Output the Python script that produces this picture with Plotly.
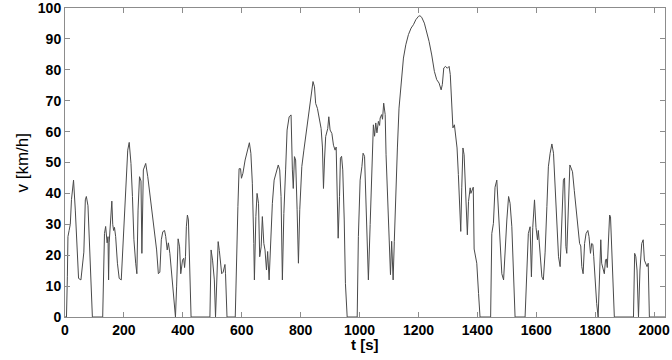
import plotly.graph_objects as go

# Segment 1 (urban part, 0 - ~580 s)
seg1_t = [0, 5, 8, 10, 14, 18, 22, 29, 35, 41, 46, 54, 60, 64, 69, 72.5, 78, 82.5, 87, 93,
          128, 130, 134, 138, 143, 146, 148, 150, 154, 159, 162, 165, 168, 172, 178, 184, 191,
          196, 201, 208, 213, 218, 224, 229, 234, 240, 244, 248, 253, 258, 261, 266, 274, 281,
          289, 297, 306, 311, 317, 322, 327, 332, 338, 342, 347, 351, 356, 363, 368, 375, 379,
          384, 389, 393, 399, 403, 406, 409, 412, 415.6, 419, 422.5, 428, 492, 496, 501, 507,
          511, 515, 520, 524, 528, 532, 537, 543, 545, 550]
seg1_v = [0, 0, 13, 26, 28, 30, 38, 44.3, 34.6, 21.7, 12.5, 12, 18.4, 21, 37.9, 39, 36, 26, 13, 0,
          0, 13, 27, 29.3, 24, 26, 12, 24, 30, 37.5, 30, 28, 29, 26, 17.4, 12.5, 12,
          21.7, 34.6, 47.6, 54, 56.5, 49.7, 39, 25, 17.4, 14, 34.6, 45.4, 44, 20.6, 47.6, 49.7, 45.4,
          39, 32.5, 25, 21.7, 14, 14.5, 25, 27.6, 28, 26, 21.7, 24, 20.6, 12, 6, 0, 10,
          25.3, 22.7, 14, 18.4, 19, 16, 19.5, 29.2, 33, 31.4, 20.6, 0, 0, 21.7, 18.4, 12,
          0, 12, 24.4, 21.5, 18.4, 14, 14.5, 17, 14, 0]

# Segment 2 (suburban / highway part, ~580 - ~1445 s)
seg2_t = [578, 581, 587, 591, 596, 599, 604, 611.5, 617, 623, 626, 631, 636, 641, 643, 648, 652,
          657, 661, 666, 670, 675, 679, 684, 688, 693, 698, 704, 710, 716.5, 724, 729, 733.5,
          738, 743, 749, 754, 761, 767.5, 772, 775, 779, 783, 788, 792.5, 797, 804, 811, 817,
          824, 832, 838, 842, 847, 851, 857, 863, 869.5, 874, 877.5, 881, 885, 892, 895.6, 900,
          906, 911.5, 917, 920.6, 924, 927.4, 932, 935, 939, 943, 948, 952, 958, 992, 996, 1002,
          1008, 1012, 1017, 1021, 1026, 1030, 1036, 1041, 1047, 1051, 1055, 1059, 1064, 1068,
          1070, 1075, 1078, 1082, 1087, 1090, 1096, 1100, 1105, 1109, 1114, 1118, 1124, 1128.5,
          1134, 1141, 1149, 1157, 1166, 1175, 1183, 1191, 1200, 1205, 1211, 1220, 1228, 1236,
          1245, 1254, 1262, 1270, 1277, 1281, 1286, 1292, 1298, 1304, 1308, 1313, 1317, 1322,
          1326, 1331, 1335.5, 1340, 1343.6, 1347, 1351, 1355, 1358, 1363, 1366, 1370, 1375.6,
          1378, 1383, 1386, 1389, 1394, 1398, 1404, 1409]
seg2_v = [0, 14, 35.7, 48, 48, 44.9, 46.5, 50.8, 53, 55.7, 56.4, 53, 43.3, 23.8, 12, 32.5, 40,
          36.8, 19.5, 22.7, 32.5, 23.8, 21.7, 15.2, 21.2, 12, 26, 36.8, 44.3, 46.5, 49.2, 47.6, 39,
          12, 33.5, 47.6, 60.5, 64.8, 65.4, 47.6, 41.6, 51.9, 50.8, 34.7, 17.4, 34.7, 48.7, 54, 58.4,
          63.8, 68.1, 73.4, 76.2, 74.5, 69.1, 67.5, 64.8, 61, 55, 41.6, 50.8, 58.4, 61, 64.8, 60.5,
          59.4, 55.6, 54, 55, 36.8, 25.5, 39, 51.4, 52, 47.6, 31.4, 10.9, 0, 0, 26, 44.3,
          48.7, 53, 52, 39, 24, 12, 29.9, 46, 62.2, 58.5, 62.8, 59.6, 63.3, 62,
          64.4, 65.5, 64, 69.2, 65.5, 52.5, 35.3, 24.5, 13.7, 24.5, 12, 24.5, 43.9, 54.7,
          67.6, 76.2, 83.8, 88.1, 91.4, 93.5, 94.6, 96.2, 97.3, 97.5, 97, 95.1, 92.4, 89.2,
          84.8, 79.5, 76.8, 75.7, 73.5, 75.2, 80.6, 81.1, 80.5, 81.1, 78.5, 69.8, 61.2, 62.2,
          59, 54.7, 46.1, 35.3, 27.7, 41.8, 54.7, 52.5, 43.9, 28.8, 26.6, 37.4, 41.8,
          40, 41.8, 42, 22, 19.5, 17.4, 7.6, 0]

# Segment 3 (urban part repeated, ~1445 - end)
seg3_t = [1445, 1447, 1449, 1454.5, 1460, 1466, 1471.5, 1477, 1483, 1489, 1494, 1500, 1506, 1511,
          1517, 1523, 1528, 1562, 1568, 1573, 1579, 1583.5, 1588, 1594, 1599, 1604, 1607, 1613,
          1619, 1624, 1630, 1636, 1641, 1647, 1653, 1658.5, 1664, 1670, 1675.5, 1681, 1687, 1692,
          1696, 1700.5, 1703.5, 1709, 1714, 1717, 1723, 1729, 1735, 1741, 1747, 1751, 1754.5,
          1759, 1764, 1769, 1775, 1779, 1784, 1788, 1792, 1795, 1800, 1805, 1810, 1814, 1819,
          1822, 1827, 1831, 1835, 1838, 1841, 1845, 1849, 1852, 1856, 1862, 1865, 1930, 1934,
          1938, 1942, 1947, 1952, 1958, 1963, 1967, 1972, 1976, 1980, 1981, 1984, 2037]
seg3_v = [0, 13, 27, 30.3, 42, 44.3, 35.7, 25, 14, 12, 21.7, 31.4, 39, 36.8,
          29.2, 13, 0, 0, 13, 27, 29.2, 13, 29, 37.9, 29, 25, 28, 19.5,
          13, 12, 21, 35.7, 48.6, 53, 56, 53, 43.3, 29.2, 19.5, 16.3, 32.5, 44.3,
          45, 22.8, 20.6, 39, 49.2, 48.5, 47, 41, 35.7, 30.3, 23.8, 23, 16.3,
          14, 23.8, 27, 28, 26, 20.6, 23.8, 23.5, 19.5, 9.8, 4.4, 0, 10, 25,
          17.4, 15.2, 14, 18.4, 18.8, 16, 22.8, 33, 32.5, 22.8, 6.6, 0, 0, 20.6,
          19.5, 15.2, 0, 15.2, 23.8, 25, 18.4, 16.8, 16.3, 17.4, 13, 0, 0]

x_ticks = list(range(0, 2001, 200))
y_ticks = list(range(0, 101, 10))

t = seg1_t + seg2_t + seg3_t
v = seg1_v + seg2_v + seg3_v

FONT = "Liberation Sans, Arial, sans-serif"

fig = go.Figure()
fig.add_trace(go.Scatter(x=t, y=v, mode="lines",
                         line=dict(color="#4a4a4a", width=1), showlegend=False,
                         hoverinfo="x+y"))

axis_common = dict(
    showgrid=False, zeroline=False, showline=True, linecolor="#8c8c8c", linewidth=1,
    mirror="ticks", ticks="inside", ticklen=5, tickcolor="#8c8c8c", automargin=False,
    ticklabeloverflow="allow",
    tickfont=dict(family=FONT, size=14, color="black"),
)

fig.update_layout(
    width=672, height=360,
    margin=dict(l=65, r=7, t=8, b=43),
    paper_bgcolor="white", plot_bgcolor="white",
    xaxis=dict(range=[0, 2037], tickvals=x_ticks, ticktext=["<b>%d</b>" % x for x in x_ticks],
               **axis_common),
    yaxis=dict(range=[0, 100], tickvals=y_ticks, ticktext=["<b>%d</b>" % y for y in y_ticks],
               **axis_common),
    annotations=[
        dict(text="<b>t [s]</b>", xref="paper", yref="paper", x=0.5, y=0,
             yshift=-27, xanchor="center", yanchor="middle", showarrow=False,
             font=dict(family=FONT, size=15, color="black")),
        dict(text="v [km/h]", xref="paper", yref="paper", x=0, y=0.5,
             xshift=-43, xanchor="center", yanchor="middle", showarrow=False, textangle=-90,
             font=dict(family="Liberation Sans Narrow, Liberation Sans, Arial, sans-serif",
                       size=17, color="black")),
    ],
)

fig.write_html("out.html", config={"displayModeBar": False},
               post_script="document.body.style.margin='0';document.body.style.overflow='hidden';")
